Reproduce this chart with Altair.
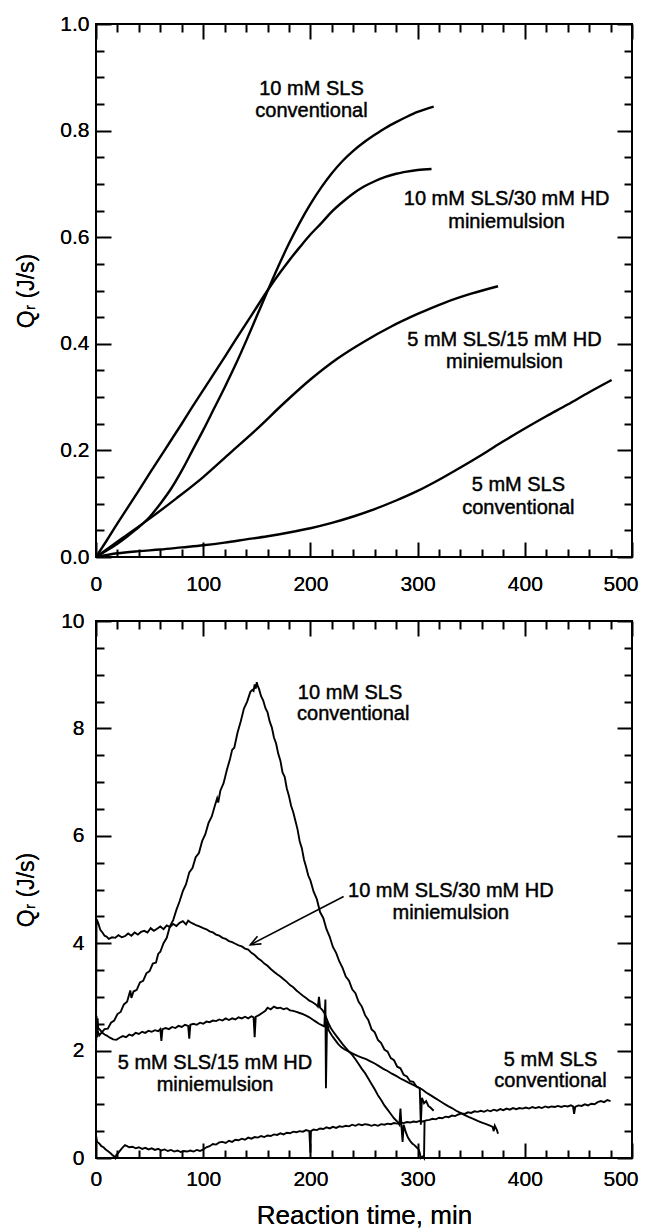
import altair as alt
import pandas as pd

FONT = "Liberation Sans, Arial, sans-serif"

# ---------------- top panel: smooth curves ----------------
top_c10_t = [0, 10, 20, 30, 40, 50, 60, 70, 80, 90, 100, 110, 120, 130, 140, 150, 160, 170, 180, 190,
             200, 210, 220, 230, 240, 250, 260, 270, 280, 290, 300, 315]
top_c10_q = [0, 0.012, 0.025, 0.04, 0.056, 0.075, 0.1, 0.128, 0.162, 0.2, 0.238, 0.278, 0.318, 0.36, 0.405,
             0.452, 0.499, 0.545, 0.588, 0.627, 0.662, 0.693, 0.72, 0.743, 0.762, 0.778, 0.792, 0.805, 0.816,
             0.826, 0.835, 0.845]

top_m10_t = [0, 10, 20, 30, 40, 50, 60, 70, 80, 90, 100, 110, 120, 130, 140, 150, 160, 170, 180, 190,
             200, 210, 220, 230, 240, 250, 260, 270, 280, 290, 300, 313]
top_m10_q = [0, 0.031, 0.063, 0.094, 0.125, 0.157, 0.188, 0.219, 0.25, 0.282, 0.313, 0.344, 0.375, 0.407,
             0.438, 0.469, 0.5, 0.529, 0.556, 0.581, 0.605, 0.626, 0.648, 0.666, 0.682, 0.695, 0.705, 0.713,
             0.719, 0.723, 0.726, 0.728]

top_m5_t = [0, 25, 50, 75, 100, 125, 150, 175, 200, 225, 250, 275, 300, 325, 350, 375]
top_m5_q = [0, 0.036, 0.072, 0.11, 0.15, 0.195, 0.24, 0.288, 0.333, 0.372, 0.404, 0.432, 0.456, 0.477,
            0.494, 0.508]

top_c5_t = [0, 20, 40, 60, 80, 100, 120, 140, 160, 180, 200, 220, 240, 260, 280, 300, 320, 340, 360, 380,
            400, 420, 440, 460, 481]
top_c5_q = [0, 0.007, 0.011, 0.014, 0.018, 0.022, 0.027, 0.033, 0.039, 0.046, 0.054, 0.064, 0.076, 0.09,
            0.106, 0.124, 0.145, 0.168, 0.192, 0.217, 0.241, 0.264, 0.286, 0.309, 0.332]

top_label_text = ["10 mM SLS", "conventional", "10 mM SLS/30 mM HD", "miniemulsion",
                  "5 mM SLS/15 mM HD", "miniemulsion", "5 mM SLS", "conventional"]
top_label_t = [201, 201, 383, 383, 381, 381, 394, 394]
top_label_q = [0.878, 0.837, 0.672, 0.628, 0.408, 0.365, 0.136, 0.092]

# ---------------- bottom panel: noisy records ----------------
bot_c10_t = [0, 1, 3, 5, 8, 11, 14, 17, 20, 23, 26, 29, 31, 32, 33, 35, 38, 41, 44, 47, 50, 53, 56, 58, 60,
             63, 66, 69, 72, 75, 78, 81, 84, 87, 90, 93, 96, 99, 102, 105, 108, 111, 113, 114, 116, 119, 122,
             125, 127, 129, 132, 135, 138, 141, 144, 146, 147, 148, 149, 150, 151, 152, 154, 156, 158, 160,
             162, 164, 166, 168, 170, 172, 174, 176, 178, 180, 182, 184, 186, 188, 190, 192, 194, 196, 198,
             200, 203, 206, 209, 212, 215, 218, 221, 224, 227, 230, 233, 236, 239, 242, 245, 248, 251, 254,
             257, 260, 263, 266, 269, 272, 275, 278, 281, 284, 287, 290, 293, 296, 299, 302, 303, 304, 306,
             308, 310, 312, 315]
bot_c10_q = [2.15, 2.4, 2.28, 2.33, 2.4, 2.41, 2.52, 2.56, 2.68, 2.72, 2.86, 2.91, 3.05, 3.12, 2.98, 3.1,
             3.13, 3.27, 3.3, 3.44, 3.48, 3.62, 3.64, 3.8, 3.84, 4.0, 4.1, 4.32, 4.43, 4.62, 4.78, 4.97, 5.1,
             5.32, 5.4, 5.6, 5.68, 5.9, 6.03, 6.24, 6.36, 6.57, 6.7, 6.62, 6.84, 6.98, 7.22, 7.43, 7.6, 7.64,
             7.92, 8.13, 8.37, 8.5, 8.68, 8.72, 8.7, 8.82, 8.74, 8.86, 8.78, 8.74, 8.6, 8.52, 8.38, 8.3,
             8.13, 8.02, 7.83, 7.72, 7.53, 7.4, 7.18, 7.1, 6.88, 6.74, 6.56, 6.44, 6.28, 6.12, 5.9, 5.77,
             5.56, 5.42, 5.26, 5.17, 4.96, 4.82, 4.58, 4.47, 4.26, 4.12, 3.93, 3.82, 3.66, 3.54, 3.38, 3.3,
             3.14, 3.07, 2.91, 2.82, 2.66, 2.57, 2.4, 2.34, 2.2, 2.14, 2.02, 1.98, 1.86, 1.82, 1.7, 1.67,
             1.55, 1.52, 1.43, 1.42, 1.33, 1.3, 0.62, 1.12, 1.02, 1.06, 0.97, 0.94, 0.88]

bot_m10_t = [0, 0.5, 2, 4, 6, 8, 10, 12, 15, 18, 21, 24, 27, 30, 33, 36, 39, 42, 45, 48, 51, 54, 57, 60, 63,
             66, 69, 72, 75, 78, 81, 84, 86, 88, 91, 94, 97, 100, 103, 106, 109, 112, 115, 118, 121, 124,
             127, 130, 133, 136, 139, 142, 145, 148, 151, 154, 157, 160, 163, 166, 169, 172, 175, 178, 181,
             184, 187, 190, 193, 196, 199, 202, 205, 207, 208, 209, 211, 213, 215, 217, 219, 221, 224, 227,
             230, 233, 236, 239, 242, 245, 248, 251, 254, 257, 260, 263, 266, 269, 272, 275, 278, 281, 283,
             284, 285, 286, 287, 289, 291, 293, 295, 297, 299, 301, 302, 303, 305, 306, 306.5]
bot_m10_q = [2.3, 4.45, 4.38, 4.25, 4.2, 4.14, 4.12, 4.08, 4.11, 4.1, 4.15, 4.11, 4.13, 4.18, 4.14, 4.2,
             4.16, 4.21, 4.23, 4.2, 4.28, 4.23, 4.27, 4.31, 4.26, 4.33, 4.3, 4.36, 4.32, 4.38, 4.41, 4.35,
             4.42, 4.39, 4.36, 4.33, 4.31, 4.28, 4.26, 4.22, 4.2, 4.16, 4.14, 4.1, 4.08, 4.04, 4.02, 3.99,
             3.96, 3.94, 3.9, 3.88, 3.82, 3.78, 3.72, 3.68, 3.62, 3.58, 3.52, 3.47, 3.42, 3.38, 3.33, 3.28,
             3.22, 3.18, 3.12, 3.07, 3.02, 2.98, 2.93, 2.9, 2.86, 2.82, 3.0, 2.8, 2.76, 2.7, 2.6, 2.5, 2.42,
             2.36, 2.28, 2.2, 2.12, 2.05, 1.98, 1.92, 1.84, 1.75, 1.66, 1.58, 1.48, 1.38, 1.28, 1.17, 1.08,
             0.98, 0.9, 0.82, 0.74, 0.68, 0.62, 0.92, 0.58, 0.3, 0.62, 0.48, 0.38, 0.32, 0.27, 0.24, 0.2,
             0.16, 0.1, 0.0, 0.03, 0.0, 0.7]

bot_m5_t = [0, 0.5, 1, 1.5, 2, 4, 6, 8, 10, 13, 16, 19, 22, 25, 28, 31, 34, 37, 40, 43, 46, 49, 52, 55, 58,
            60, 61, 62, 65, 68, 71, 74, 77, 80, 83, 86, 87, 88, 91, 94, 97, 100, 103, 106, 109, 112, 115,
            118, 121, 124, 127, 130, 133, 136, 139, 142, 145, 147, 148, 149, 152, 155, 158, 160, 163, 166,
            169, 172, 175, 178, 181, 184, 187, 190, 193, 196, 199, 202, 205, 208, 211, 213, 214, 214.5,
            215.5, 217, 220, 223, 226, 229, 232, 236, 240, 244, 248, 252, 256, 260, 264, 268, 272, 276, 280,
            284, 288, 292, 296, 300, 304, 308, 312, 316, 320, 324, 328, 332, 336, 340, 344, 348, 352, 356,
            360, 364, 368, 370, 371, 372, 374, 375]
bot_m5_q = [2.2, 2.65, 2.25, 2.6, 2.42, 2.38, 2.33, 2.3, 2.28, 2.24, 2.21, 2.2, 2.24, 2.27, 2.25, 2.3, 2.28,
            2.33, 2.31, 2.35, 2.33, 2.37, 2.35, 2.38, 2.36, 2.4, 2.18, 2.4, 2.42, 2.4, 2.44, 2.42, 2.46,
            2.44, 2.48, 2.46, 2.22, 2.48, 2.5, 2.48, 2.52, 2.5, 2.54, 2.53, 2.56, 2.55, 2.58, 2.56, 2.6,
            2.57, 2.6, 2.58, 2.62, 2.6, 2.63, 2.6, 2.64, 2.62, 2.25, 2.63, 2.66, 2.7, 2.74, 2.8, 2.77, 2.82,
            2.79, 2.8, 2.77, 2.79, 2.75, 2.74, 2.72, 2.7, 2.68, 2.65, 2.62, 2.58, 2.54, 2.5, 2.47, 2.45,
            2.95, 1.3, 2.55, 2.38, 2.28, 2.2, 2.12, 2.06, 2.02, 1.98, 1.94, 1.9, 1.87, 1.84, 1.8, 1.76, 1.71,
            1.66, 1.62, 1.57, 1.53, 1.48, 1.44, 1.4, 1.36, 1.32, 1.28, 1.22, 1.17, 1.12, 1.07, 1.02, 0.97,
            0.93, 0.88, 0.84, 0.8, 0.76, 0.73, 0.69, 0.66, 0.63, 0.6, 0.58, 0.5, 0.6, 0.52, 0.45]

bot_c5_t = [0, 1, 3, 5, 7, 9, 11, 13, 15, 17, 18, 19, 21, 23, 25, 27, 29, 31, 34, 37, 40, 43, 46, 49, 52,
            55, 58, 61, 64, 67, 70, 73, 76, 79, 82, 85, 88, 91, 94, 97, 100, 103, 106, 109, 112, 115, 118,
            121, 124, 127, 130, 133, 136, 139, 142, 145, 148, 151, 154, 157, 160, 163, 166, 169, 172, 175,
            178, 181, 184, 187, 190, 193, 196, 199, 200, 200.5, 203, 206, 209, 212, 215, 218, 221, 224, 227,
            230, 233, 236, 239, 242, 245, 248, 251, 254, 257, 260, 263, 266, 269, 272, 275, 278, 281, 284,
            287, 290, 293, 296, 299, 302, 305, 308, 311, 314, 317, 320, 323, 326, 329, 332, 335, 338, 341,
            344, 347, 350, 353, 356, 359, 362, 365, 368, 371, 374, 377, 380, 383, 386, 389, 392, 395, 398,
            401, 404, 407, 410, 413, 416, 419, 422, 425, 428, 431, 434, 437, 440, 443, 445, 446, 447, 450,
            453, 456, 459, 462, 465, 468, 471, 474, 477, 480]
bot_c5_q = [0.42, 0.3, 0.27, 0.22, 0.2, 0.16, 0.13, 0.1, 0.06, 0.03, 0.0, 0.06, 0.1, 0.15, 0.2, 0.24, 0.22,
            0.2, 0.21, 0.18, 0.2, 0.17, 0.19, 0.16, 0.18, 0.15, 0.17, 0.14, 0.16, 0.13, 0.15, 0.12, 0.14,
            0.11, 0.13, 0.12, 0.14, 0.12, 0.15, 0.13, 0.16, 0.2, 0.22, 0.26, 0.25, 0.29, 0.3, 0.28, 0.32,
            0.3, 0.34, 0.33, 0.36, 0.34, 0.38, 0.36, 0.39, 0.38, 0.41, 0.39, 0.42, 0.41, 0.44, 0.43, 0.46,
            0.44, 0.47, 0.46, 0.49, 0.48, 0.5, 0.49, 0.52, 0.5, 0.1, 0.5, 0.53, 0.52, 0.55, 0.54, 0.57, 0.55,
            0.58, 0.56, 0.59, 0.58, 0.6, 0.59, 0.62, 0.6, 0.63, 0.61, 0.63, 0.62, 0.6, 0.62, 0.6, 0.63, 0.62,
            0.64, 0.63, 0.65, 0.64, 0.66, 0.65, 0.67, 0.66, 0.68, 0.67, 0.69, 0.68, 0.7, 0.71, 0.73, 0.72,
            0.75, 0.74, 0.77, 0.76, 0.79, 0.78, 0.81, 0.83, 0.82, 0.85, 0.84, 0.87, 0.86, 0.88, 0.86, 0.89,
            0.87, 0.9, 0.88, 0.91, 0.89, 0.92, 0.9, 0.93, 0.91, 0.93, 0.92, 0.94, 0.92, 0.95, 0.93, 0.95,
            0.93, 0.96, 0.94, 0.96, 0.95, 0.97, 0.95, 0.97, 0.96, 0.98, 0.96, 0.82, 0.95, 0.98, 0.97, 1.0,
            0.98, 1.01, 1.0, 1.04, 1.06, 1.04, 1.08, 1.06]

bot_label_text = ["10 mM SLS", "conventional", "10 mM SLS/30 mM HD", "miniemulsion",
                  "5 mM SLS/15 mM HD", "miniemulsion", "5 mM SLS", "conventional"]
bot_label_t = [237, 240, 331, 331, 111, 111, 424, 424]
bot_label_q = [8.66, 8.26, 4.98, 4.56, 1.77, 1.36, 1.83, 1.43]

arrow_t = [231, 144]
arrow_q = [4.87, 3.97]

# ---------------- axes / ticks ----------------
x_major = [0, 100, 200, 300, 400, 500]
x_minor = [20, 40, 60, 80, 120, 140, 160, 180, 220, 240, 260, 280, 320, 340, 360, 380, 420, 440, 460, 480]
top_y_major = [0, 0.2, 0.4, 0.6, 0.8, 1.0]
top_y_minor = [0.05, 0.1, 0.15, 0.25, 0.3, 0.35, 0.45, 0.5, 0.55, 0.65, 0.7, 0.75, 0.85, 0.9, 0.95]
bot_y_major = [0, 2, 4, 6, 8, 10]
bot_y_minor = [0.5, 1, 1.5, 2.5, 3, 3.5, 4.5, 5, 5.5, 6.5, 7, 7.5, 8.5, 9, 9.5]

W = 536
H_TOP = 533
H_BOT = 537
MAJ = 15   # tick lengths, px
MIN = 8
XDOM = [0, 500]


def series_df(name, t, q):
    return pd.DataFrame({"t": t, "q": q, "series": name, "i": list(range(len(t)))})


def tick_axis(orient, values, size, offset):
    # a label-less axis moved onto the opposite edge so that its ticks point into the plot
    return alt.Axis(orient=orient, values=values, tickSize=size, tickWidth=2, tickColor="black",
                    labels=False, domain=False, grid=False, title="", offset=offset)


def panel(lines_df, lab_df, ydom, ymaj, ymin, xaxis, yaxis, H, stroke_w, interp, extra=None):
    xs = alt.Scale(domain=XDOM, nice=False, zero=False)
    ys = alt.Scale(domain=ydom, nice=False, zero=False)
    X = alt.X("t:Q", scale=xs, axis=xaxis)
    Y = alt.Y("q:Q", scale=ys, axis=yaxis)

    curves = [alt.Chart(lines_df).mark_line(color="black", strokeWidth=stroke_w, interpolate=interp).encode(
        x=X, y=Y, detail="series:N", order="i:Q")]
    if extra is not None:
        adf = extra
        curves.append(alt.Chart(adf).mark_line(color="black", strokeWidth=1.6).encode(x=X, y=Y, order="i:Q"))
        curves.append(alt.Chart(adf.iloc[[1]]).mark_point(
            shape="M -1 -0.42 L 0 0 L -1 0.42", size=420, filled=False, stroke="black", strokeWidth=1.6,
            angle=152.6, opacity=1).encode(x=X, y=Y))
    labels = alt.Chart(lab_df).mark_text(font=FONT, fontSize=20, color="black", stroke="black",
                                         strokeWidth=0.45, align="center", baseline="middle").encode(
        x=X, y=Y, text="label:N")

    # inward ticks on all four sides, drawn by extra axes carried by invisible layers
    carrier = lab_df.iloc[[0]]
    specs = [
        ("top", x_major, "right", ymaj, MAJ),    # bottom edge (x) / left edge (y)
        ("top", x_minor, "right", ymin, MIN),
        ("bottom", x_major, "left", ymaj, MAJ),  # top edge (x) / right edge (y)
        ("bottom", x_minor, "left", ymin, MIN),
    ]
    carriers = []
    for xo, xv, yo, yv, L in specs:
        carriers.append(alt.Chart(carrier).mark_point(opacity=0).encode(
            x=alt.X("t:Q", scale=xs, axis=tick_axis(xo, xv, L, -H)),
            y=alt.Y("q:Q", scale=ys, axis=tick_axis(yo, yv, L, -W)),
        ))

    return alt.layer(alt.layer(*curves), alt.layer(labels), *carriers).resolve_axis(
        x="independent", y="independent").properties(width=W, height=H)


common_lab = dict(labelFont=FONT, labelFontSize=21, labelColor="black",
                  ticks=False, tickSize=0, domain=False, grid=False)
xflush = dict(labelFlush=True, labelFlushOffset=6)
ytitle = dict(title="Qᵣ (J/s)", titleFont=FONT, titleFontSize=23, titleFontWeight="normal",
              titleColor="black", titleX=-70, titleBaseline="middle", labelFlush=False)

top_x_axis = alt.Axis(orient="bottom", values=x_major, labelPadding=16, title="", **common_lab, **xflush)
top_y_axis = alt.Axis(orient="left", values=top_y_major, format=".1f", labelPadding=7, **common_lab, **ytitle)
bot_x_axis = alt.Axis(orient="bottom", values=x_major, labelPadding=10, title="Reaction time, min",
                      titleFont=FONT, titleFontSize=26, titleFontWeight="normal", titleColor="black",
                      titleY=57, titleBaseline="middle", **common_lab, **xflush)
bot_y_axis = alt.Axis(orient="left", values=bot_y_major, format="d", labelPadding=12, **common_lab, **ytitle)

top_lines = pd.concat([
    series_df("c10", top_c10_t, top_c10_q),
    series_df("m10", top_m10_t, top_m10_q),
    series_df("m5", top_m5_t, top_m5_q),
    series_df("c5", top_c5_t, top_c5_q),
])
bot_lines = pd.concat([
    series_df("c10", bot_c10_t, bot_c10_q),
    series_df("m10", bot_m10_t, bot_m10_q),
    series_df("m5", bot_m5_t, bot_m5_q),
    series_df("c5", bot_c5_t, bot_c5_q),
])
top_labels = pd.DataFrame({"t": top_label_t, "q": top_label_q, "label": top_label_text})
bot_labels = pd.DataFrame({"t": bot_label_t, "q": bot_label_q, "label": bot_label_text})
arrow_df = pd.DataFrame({"t": arrow_t, "q": arrow_q, "i": [0, 1]})

top = panel(top_lines, top_labels, [0, 1], top_y_major, top_y_minor, top_x_axis, top_y_axis, H_TOP,
            2.4, "monotone")
bot = panel(bot_lines, bot_labels, [0, 10], bot_y_major, bot_y_minor, bot_x_axis, bot_y_axis, H_BOT,
            1.9, "linear", extra=arrow_df)

chart = alt.vconcat(top, bot, spacing=64, bounds="flush").configure_view(
    stroke="black", strokeWidth=2
).properties(
    padding={"left": 6, "top": 4, "right": 0, "bottom": 0},
    background="white",
)

chart.save("out.html", embed_options={"renderer": "svg", "actions": False})
